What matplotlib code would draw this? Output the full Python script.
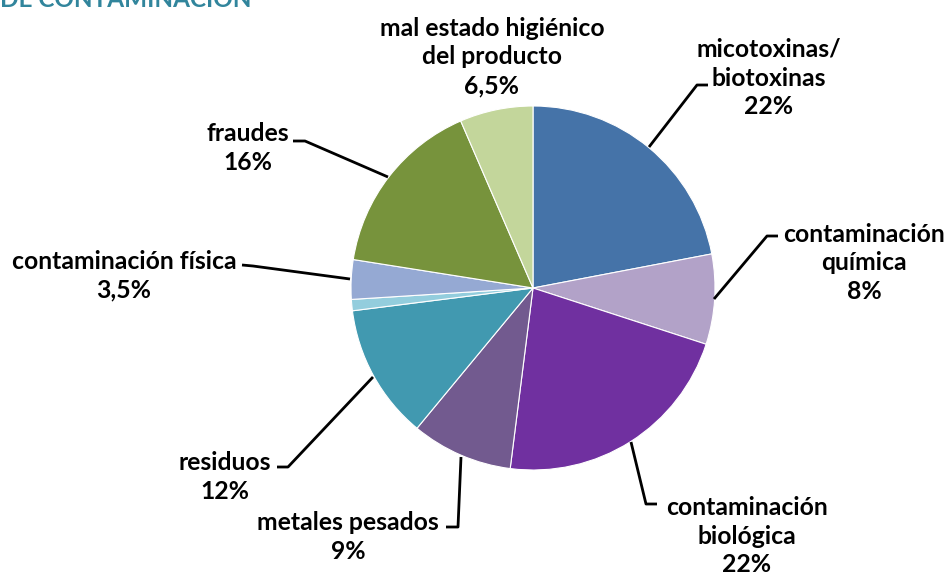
import matplotlib
matplotlib.use("Agg")
import matplotlib.pyplot as plt

categories = ["micotoxinas/\nbiotoxinas", "contaminación\nquímica", "contaminación\nbiológica",
              "metales pesados", "residuos", "otros", "contaminación física", "fraudes",
              "mal estado higiénico\ndel producto"]
values = [22, 8, 22, 9, 12, 1, 3.5, 16, 6.5]
value_labels = ["22%", "8%", "22%", "9%", "12%", "", "3,5%", "16%", "6,5%"]
colors = ["#4573A8", "#B2A2C8", "#7030A0", "#725A8F", "#4199B0", "#93CDDD",
          "#95A9D3", "#77933C", "#C3D69B"]

W, H = 949, 576
fig = plt.figure(figsize=(W / 100, H / 100), dpi=100)
ax = fig.add_axes([0, 0, 1, 1])

cx, cy, r = 533, H - 288, 182
ax.pie(values, colors=colors, startangle=90, counterclock=False, center=(cx, cy),
       radius=r, wedgeprops=dict(edgecolor="white", linewidth=0.8), frame=True)
ax.set_xlim(0, W)
ax.set_ylim(0, H)
ax.set_aspect("equal")
ax.axis("off")

def Y(y):
    return H - y

# label layout (pixel coords): text center, leader polyline
layout = [
    ((769, 78), [(649, 147), (697, 85), (708, 85)]),
    ((864, 263), [(714, 299), (767, 236), (778, 236)]),
    ((747, 536), [(631, 442), (646, 504), (657, 504)]),
    ((348, 537), [(461, 457), (458, 527), (446, 527)]),
    ((225, 477), [(373, 377), (288, 467), (277, 467)]),
    (None, None),
    ((124, 276), [(350, 279), (253, 266), (242, 265)]),
    ((248, 148), [(388, 177), (305, 141), (293, 141)]),
    ((492, 57), None),
]

font = dict(family="Lato", fontweight="bold", fontsize=17.8, color="black")
for cat, vl, (pos, line) in zip(categories, value_labels, layout):
    if pos is None:
        continue
    ax.text(pos[0], Y(pos[1]), cat + "\n" + vl, ha="center", va="center",
            linespacing=1.3, **font)
    if line:
        xs = [p[0] for p in line]
        ys = [Y(p[1]) for p in line]
        ax.plot(xs, ys, color="black", lw=2, solid_capstyle="butt")

ax.text(0, Y(7), "DE CONTAMINACIÓN", ha="left", va="baseline", family="Lato",
        fontweight="bold", fontsize=17.5, color="#31859C")

fig.savefig("out.png", dpi=100)
